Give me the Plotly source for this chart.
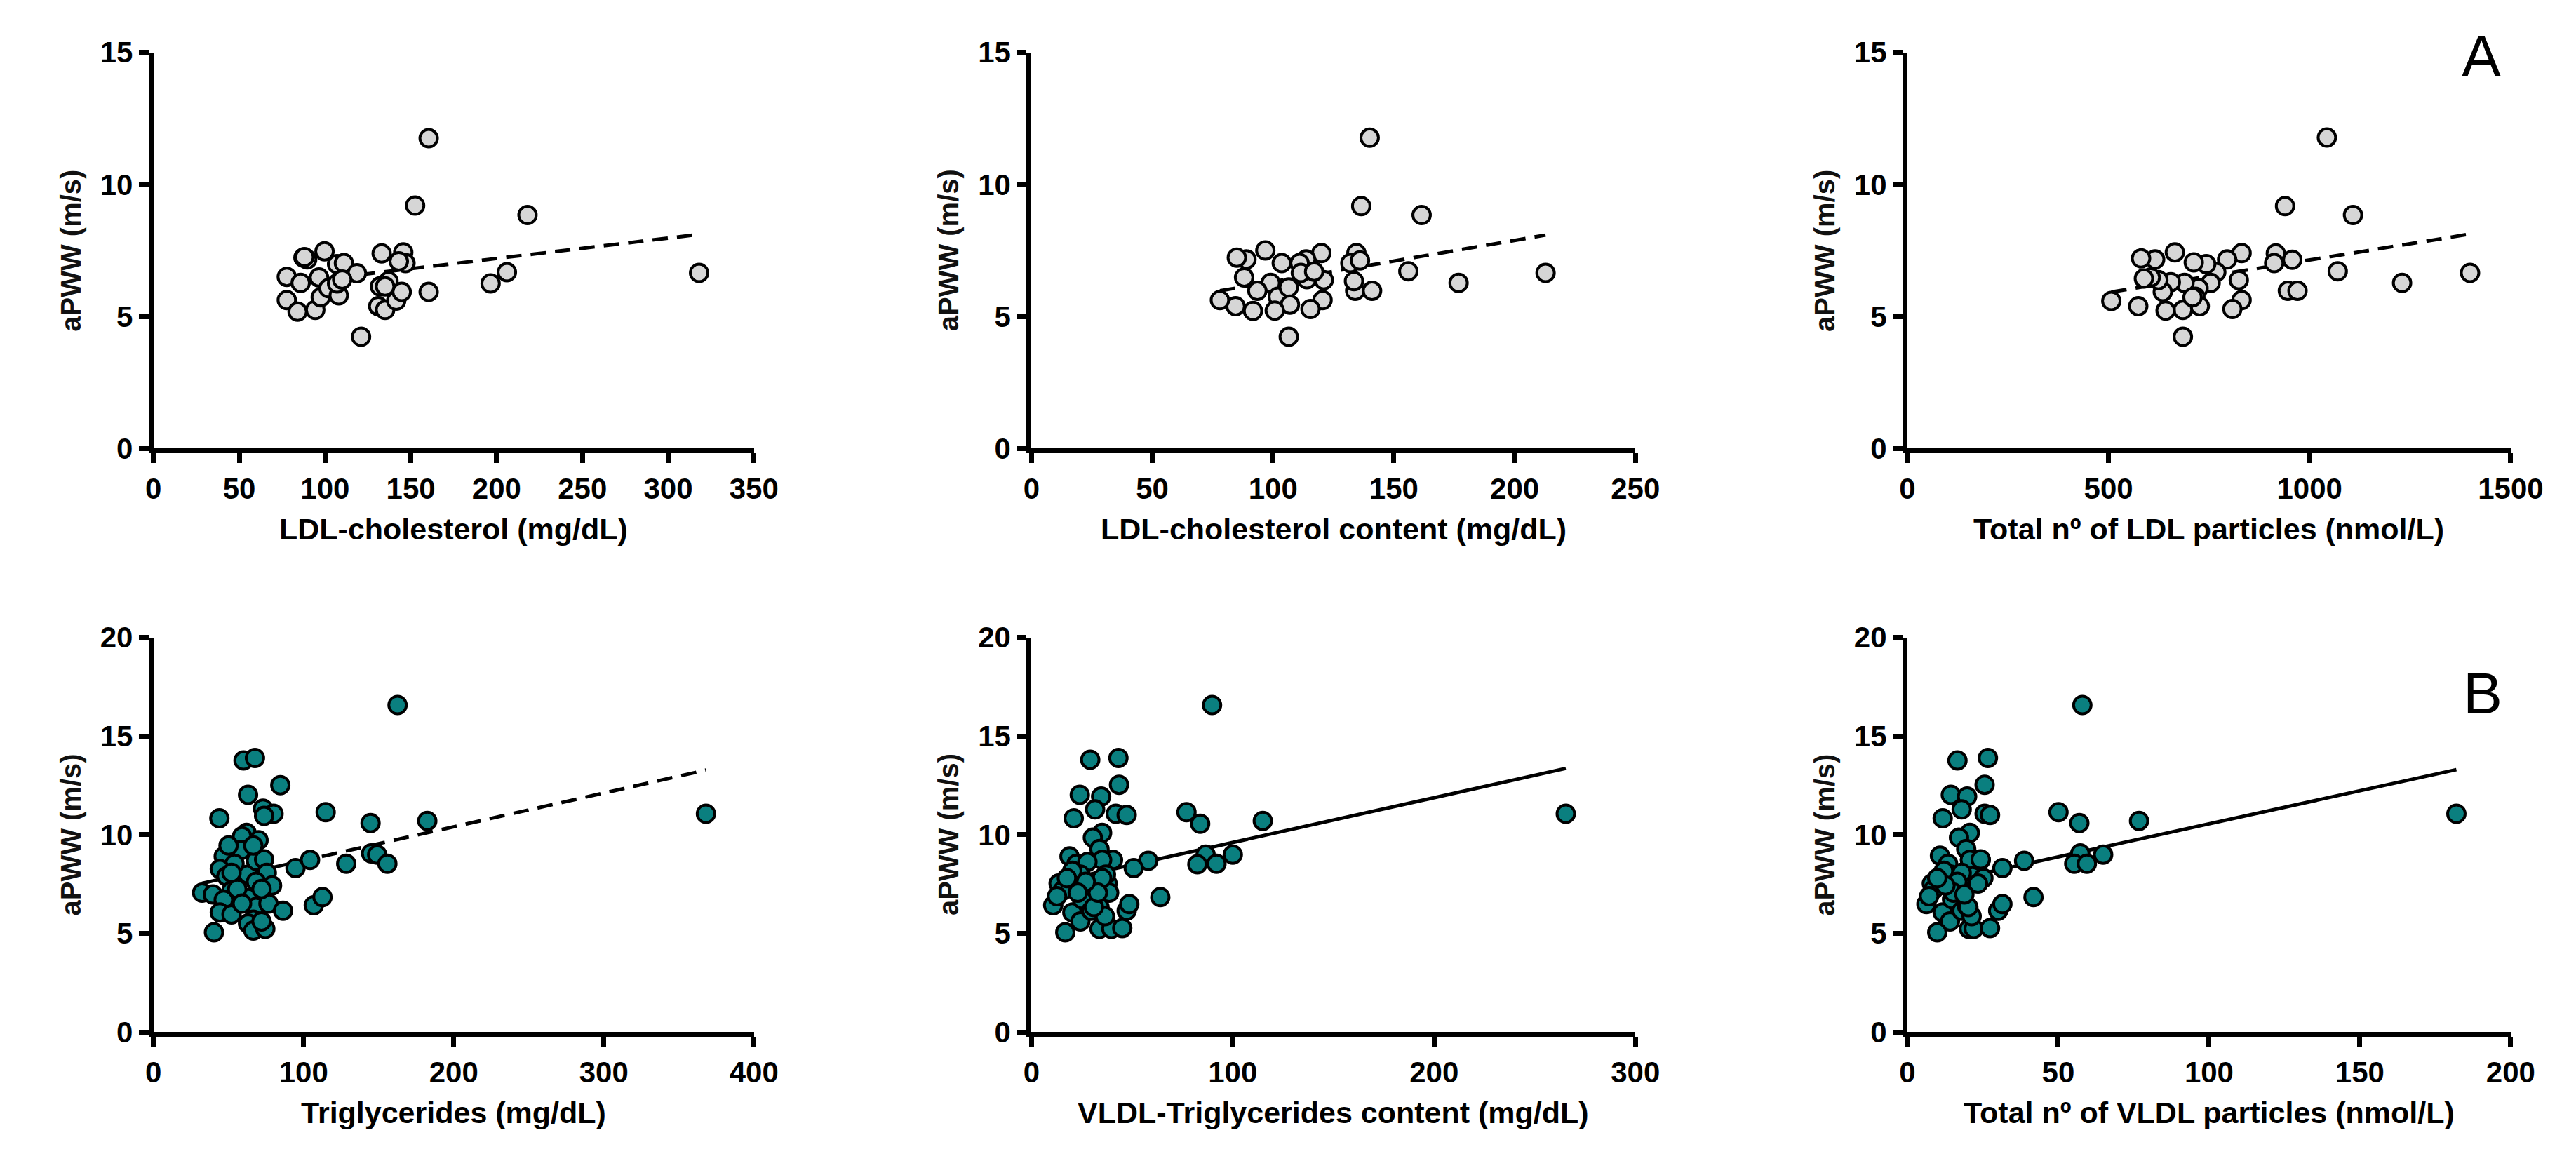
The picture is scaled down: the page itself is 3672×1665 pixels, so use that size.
import numpy as np
import plotly.graph_objects as go
from plotly.subplots import make_subplots

# ---- data ----
# A: LDL related (gray markers)
ldl_chol = [160.4, 152.5, 218, 318, 206, 196.5, 160.4, 121, 99.7, 87.4, 89.6, 77.7, 77.7, 84,
            85.8, 94.3, 96.5, 97.5, 102, 108, 107, 107, 111, 118.6, 133, 132, 131, 135, 137,
            141.5, 144.7, 145.6, 146.9, 143, 135, 88, 110]
pwv_ldl_chol = [11.75, 9.2, 8.84, 6.65, 6.68, 6.25, 5.93, 4.23, 7.47, 7.23, 7.16, 6.5, 5.62, 5.18,
                6.27, 5.25, 6.48, 5.73, 6.07, 5.8, 6.25, 6.98, 7.02, 6.64, 7.39, 6.14, 5.39, 5.25, 6.34,
                5.6, 5.93, 7.43, 7.02, 7.09, 6.14, 7.25, 6.4]

ldl_c_content = [140, 136.5, 161.5, 212.8, 176.8, 156, 134, 141, 134.5, 132, 136, 120, 113.7, 111,
                 114, 121, 120.5, 115.5, 103.6, 96.8, 89, 85, 88, 99, 93.5, 102, 106.5, 107, 100.7,
                 91.7, 84.5, 78, 106.5, 111.5, 133.5, 117]
pwv_ldl_c_content = [11.77, 9.18, 8.84, 6.65, 6.27, 6.71, 5.97, 5.97, 7.4, 7.02, 7.12, 7.4, 7.16, 7.02,
                     6.41, 6.38, 5.62, 5.28, 7.02, 7.5, 7.16, 7.23, 6.48, 6.27, 5.97, 5.75, 6.1, 5.45, 5.22,
                     5.21, 5.39, 5.62, 4.23, 6.65, 6.34, 6.7]

ldl_particles = [1043, 939, 1108, 1399, 1230, 1070, 946, 970, 916, 912, 957, 831, 795, 824, 831, 808,
                 768, 743, 712, 754, 724, 716, 727, 689, 685, 685, 665, 655, 635, 642, 624, 616, 605,
                 588, 581, 574, 507, 709]
pwv_ldl_particles = [11.78, 9.18, 8.84, 6.65, 6.27, 6.71, 5.97, 5.97, 7.39, 7.02, 7.15, 7.4, 7.16, 6.38,
                     5.62, 5.28, 6.68, 6.98, 7.05, 6.27, 6.07, 5.75, 5.39, 6.27, 5.25, 4.23, 7.43, 6.3,
                     5.93, 5.22, 6.38, 7.16, 6.48, 6.44, 7.2, 5.39, 5.59, 5.73]

# B: triglyceride related (teal markers)
tg = [162.6, 368, 182.4, 144.6, 114.7, 84.5, 60, 67.6, 63, 73, 80, 73.7, 43.9, 62, 70, 59, 58.6,
      46.8, 54, 44.2, 48.6, 52, 32.4, 39.6, 46.8, 44.2, 52, 40.3, 63, 68.3, 73.7, 75.5, 79, 68.3,
      63, 68.3, 76.6, 66.5, 63, 66.5, 74.5, 72, 86.3, 94.6, 104.3, 128.4, 106.8, 112.6, 145, 149,
      155.8, 55.8, 52, 72, 59, 66.5, 50]
pwv_tg = [16.57, 11.06, 10.7, 10.59, 11.14, 12.51, 13.76, 13.89, 12.02, 11.32, 11.06, 10.95, 10.83,
          10.09, 9.72, 9.91, 9.23, 8.9, 8.53, 8.26, 7.89, 7.16, 7.06, 6.97, 6.7, 6.06, 5.96, 5.05,
          7.98, 8.68, 8.75, 8.07, 7.43, 7.61, 6.79, 6.33, 6.51, 5.69, 5.5, 5.14, 5.23, 5.6, 6.15,
          8.31, 8.72, 8.53, 6.42, 6.84, 9.05, 8.99, 8.53, 7.25, 8.07, 7.25, 6.51, 9.45, 9.45]

vldl_tg = [89.7, 265.4, 114.9, 83.8, 77, 100, 86.5, 82.4, 91.9, 64, 58, 50.8, 43.2, 29.2, 43.5, 34.6,
           24, 31.6, 41.9, 47.3, 21, 35.1, 30.5, 33.8, 40.5, 35.1, 18.9, 22.4, 27.8, 24.3, 20.3, 13.5,
           15.4, 10.8, 12.7, 20.3, 25.1, 24.3, 16.8, 29.7, 33.8, 33.8, 39.7, 45.1, 36.5, 47.3, 48.6,
           37.8, 37, 38.6, 28.4, 31, 35.1, 33, 27, 23, 17.6]
pwv_vldl_tg = [16.57, 11.06, 10.7, 10.55, 11.14, 8.99, 8.99, 8.5, 8.53, 6.84, 8.68, 8.31, 13.89, 13.8,
               12.53, 11.93, 12.02, 11.28, 11.06, 11.0, 10.83, 10.09, 9.85, 9.27, 8.72, 8.72, 8.9,
               8.53, 8.62, 7.98, 8.17, 7.52, 7.16, 6.42, 6.88, 6.06, 6.73, 5.6, 5.05, 6.15, 6.33, 5.23,
               5.23, 5.27, 5.87, 6.15, 6.48, 7.52, 7.98, 7.06, 7.43, 6.33, 7.8, 7.06, 7.61, 7.06, 7.8]

vldl_particles = [58, 182, 76.8, 57, 50.1, 64.9, 57.3, 55.3, 59.5, 41.8, 38.7, 31.5, 26.7, 16.6, 25.6,
                  14.4, 19.8, 18, 25.6, 27.4, 11.7, 20.7, 17.1, 19.5, 10.8, 24.3, 20.7, 13.5, 14.4,
                  12.1, 8.1, 8.6, 6.3, 7.2, 11.7, 14.8, 14.1, 9.9, 18, 19.8, 20.4, 22, 27.4, 21.3, 30.1,
                  31.5, 21.3, 21.6, 25.2, 18, 16.6, 20.2, 23.4, 15.3, 12.6, 18.9, 9.9, 24.3]
pwv_vldl_particles = [16.57, 11.06, 10.7, 10.59, 11.14, 8.99, 9.05, 8.53, 8.53, 6.84, 8.68, 8.31, 13.89,
                      13.76, 12.53, 12.02, 11.93, 11.28, 11.06, 11.0, 10.83, 10.09, 9.85, 9.27, 8.94,
                      8.72, 8.72, 8.53, 7.98, 8.17, 7.52, 7.21, 6.48, 6.88, 6.06, 6.73, 5.6, 5.05, 6.15,
                      6.37, 5.23, 5.23, 5.27, 5.87, 6.15, 6.48, 7.52, 7.89, 7.8, 8.07, 7.61, 6.33, 7.52,
                      7.06, 7.43, 6.97, 7.8, 8.75]

# regression lines: (intercept, slope)
fit_ldl_chol = (5.65, 0.00773)
fit_ldl_c_content = (4.75, 0.01566)
fit_ldl_particles = (4.68, 0.00246)
fit_tg = (6.98, 0.0171)
fit_vldl_tg = (7.34, 0.02267)
fit_vldl_particles = (7.2, 0.0335)

x_titles = ["LDL-cholesterol (mg/dL)", "LDL-cholesterol content (mg/dL)",
            "Total nº of LDL particles (nmol/L)",
            "Triglycerides (mg/dL)", "VLDL-Triglycerides content (mg/dL)",
            "Total nº of VLDL particles (nmol/L)"]
y_title = "aPWW (m/s)"

x_ranges = [(0, 350, 50), (0, 250, 50), (0, 1500, 500),
            (0, 400, 100), (0, 300, 100), (0, 200, 50)]
y_ranges = [(0, 15, 5), (0, 15, 5), (0, 15, 5),
            (0, 20, 5), (0, 20, 5), (0, 20, 5)]

# ---- figure ----
W, H = 3672, 1665
FONT = "Arial, Liberation Sans, sans-serif"
GRAY = "#d6d6d6"
TEAL = "#0a7f7f"

panels = [
    (ldl_chol, pwv_ldl_chol, fit_ldl_chol, GRAY, "dash"),
    (ldl_c_content, pwv_ldl_c_content, fit_ldl_c_content, GRAY, "dash"),
    (ldl_particles, pwv_ldl_particles, fit_ldl_particles, GRAY, "dash"),
    (tg, pwv_tg, fit_tg, TEAL, "dash"),
    (vldl_tg, pwv_vldl_tg, fit_vldl_tg, TEAL, "solid"),
    (vldl_particles, pwv_vldl_particles, fit_vldl_particles, TEAL, "solid"),
]

# panel boxes in pixels (left, right) / (top, bottom)
cols_px = [(202, 1072), (1474, 2349), (2743, 3617)]
rows_px = [(45, 626), (903, 1482)]

fig = make_subplots(rows=2, cols=3)

annotations = []
for i, (xs, ys, fit, color, dash) in enumerate(panels):
    r, c = i // 3 + 1, i % 3 + 1
    xl, xr = cols_px[c - 1]
    yt, yb = rows_px[r - 1]
    b0, b1 = fit
    lx = np.array([min(xs), max(xs)])
    fig.add_trace(go.Scatter(x=lx, y=b0 + b1 * lx, mode="lines",
                             line=dict(color="black", width=5,
                                       dash="22px,13px" if dash == "dash" else "solid"),
                             showlegend=False, hoverinfo="skip"), row=r, col=c)
    fig.add_trace(go.Scatter(x=xs, y=ys, mode="markers", cliponaxis=False,
                             marker=dict(size=25, color=color,
                                         line=dict(color="black", width=4)),
                             showlegend=False), row=r, col=c)
    x0, x1, dx = x_ranges[i]
    y0, y1, dy = y_ranges[i]
    fig.update_xaxes(domain=[xl / W, xr / W], range=[x0, x1], dtick=dx, tick0=0,
                     row=r, col=c)
    fig.update_yaxes(domain=[1 - yb / H, 1 - yt / H], range=[y0, y1], dtick=dy, tick0=0,
                     row=r, col=c)
    annotations.append(dict(text=x_titles[i], x=(xl + xr) / 2 / W, y=1 - (yb + 118) / H,
                            xref="paper", yref="paper", showarrow=False,
                            xanchor="center", yanchor="middle",
                            font=dict(family=FONT, size=43, color="black", weight="bold")))
    annotations.append(dict(text=y_title, x=(xl - 120) / W, y=1 - (yt + yb) / 2 / H,
                            xref="paper", yref="paper", showarrow=False, textangle=-90,
                            xanchor="center", yanchor="middle",
                            font=dict(family=FONT, size=40, color="#111111", weight="bold")))

annotations.append(dict(text="A", x=3574 / W, y=1 - 50 / H, xref="paper", yref="paper",
                        showarrow=False, xanchor="center", yanchor="middle",
                        font=dict(family=FONT, size=84, color="black")))
annotations.append(dict(text="B", x=3576 / W, y=1 - 985 / H, xref="paper", yref="paper",
                        showarrow=False, xanchor="center", yanchor="middle",
                        font=dict(family=FONT, size=84, color="black")))

axis_style = dict(showline=True, linecolor="black", linewidth=7, showgrid=False,
                  zeroline=False, ticks="outside", ticklen=14, tickwidth=7,
                  tickcolor="black",
                  tickfont=dict(family=FONT, size=42, color="black", weight="bold"))
fig.update_xaxes(**axis_style)
fig.update_yaxes(**axis_style)

fig.update_layout(width=W, height=H, margin=dict(l=0, r=0, t=0, b=0),
                  plot_bgcolor="white", paper_bgcolor="white",
                  annotations=annotations)

fig.write_html("out.html")
